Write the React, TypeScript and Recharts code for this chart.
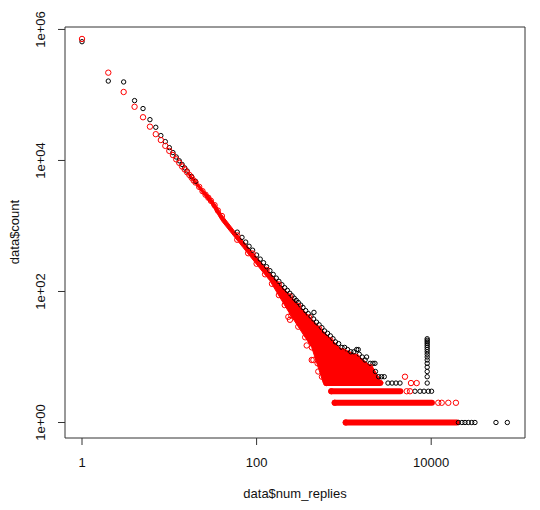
import React from "react";
import {
  ComposedChart,
  XAxis,
  YAxis,
  Scatter,
  Line,
  Area,
  ReferenceArea,
  Label,
} from "recharts";

// ---- axis ticks ----
const xTicks = [1, 100, 10000];
const xTickLabels = ["1", "100", "10000"];
const yTicks = [1, 100, 10000, 1000000];
const yTickLabels = ["1e+00", "1e+02", "1e+04", "1e+06"];
const xDomain = [0.6385, 118750];
const yDomain = [0.58, 1090000];

// ---- black series (first data set) ----
const blackX = [1, 2, 3, 4, 5, 6, 7, 8, 9, 10, 11, 12, 13, 14, 15, 16, 18, 20];
const blackY = [650000, 163000, 158000, 82000, 62000, 42000, 32100, 24000, 19400, 15700, 13200, 11300, 9900, 8700, 7700, 6900, 5700, 4800];
// upper edge of the cloud
const blackEdgeX = [60, 68, 75, 82, 90, 100, 110, 120, 130, 142, 155, 168, 180, 195, 210, 225, 240, 255, 270, 285, 300, 320, 340, 365, 390, 420, 450, 454, 485, 520, 560, 600, 650, 700, 750, 800, 870, 950, 1020, 1100, 1200, 1300, 1400, 1460, 1500, 1620, 1750, 1820, 2000, 2150, 2270, 2300, 2500, 2700, 2900];
const blackEdgeY = [805, 670, 568, 490, 427, 360, 312, 275, 239, 208, 182, 160, 143, 127, 114, 104, 94, 86, 79, 73, 68, 62, 57, 51, 46, 42, 38, 48, 34, 31, 28, 25, 23, 21, 19, 17, 16, 14, 14, 13, 12, 12, 13, 13, 11, 10, 9, 10, 8, 8, 8, 6, 5, 5, 5];
// tails of the low-count rows
const blackTailX = [3200, 3560, 3950, 4390, 6520, 7450, 8270, 9270, 10100, 20500, 22500, 24400, 26600, 29100, 31700, 55200, 74500];
const blackTailY = [4, 4, 4, 4, 3, 3, 3, 3, 3, 1, 1, 1, 1, 1, 1, 1, 1];
// vertical column of points at one num_replies value
const blackColumnX = 9000;
const blackColumnY = [4, 5, 6, 7, 8, 9, 10, 11, 12, 13, 14, 15, 16, 17, 18, 19];

// ---- red series (second data set) ----
const redX = [1, 2, 3, 4, 5, 6, 7, 8, 9, 10, 11, 12, 13, 14, 15, 16, 17, 18, 19, 20, 22, 24, 26, 28, 30, 33, 36, 40];
const redY = [716000, 219000, 111000, 66000, 45700, 32800, 25200, 20500, 16700, 14000, 12100, 10400, 9200, 8100, 7300, 6600, 6000, 5450, 4950, 4600, 3950, 3400, 3000, 2700, 2420, 2080, 1720, 1420];
// dense cloud: lower / upper count envelope per num_replies
const massX = [16, 20, 25, 30, 35, 40, 56, 70, 95, 142, 185, 242, 316, 428, 581, 900, 1400, 2170, 2600, 2830];
const massLo = [6400, 4350, 2950, 2180, 1580, 1180, 676, 468, 282, 146, 81, 45, 26, 14, 4, 4, 4, 4, 4, 4];
const massHi = [6800, 4850, 3450, 2650, 1990, 1480, 832, 589, 363, 194, 128, 87, 58.6, 37.8, 24.8, 13.8, 10.9, 6.8, 4.5, 4];
// rows of count = 1..4
const rowCounts = [1, 2, 3, 4];
const rowStart = [1050, 785, 717, 629];
const rowEnd = [19700, 10200, 4430, 2610];
// individual red points around the cloud edges and row ends
const redEdgeX = [60, 80, 100, 125, 150, 180, 210, 250, 300, 360, 430, 500, 560, 231, 241, 375, 428, 447, 509,
  60, 90, 130, 180, 240, 300, 400, 520, 700, 1000, 1400, 2000,
  1050, 785, 717, 629, 12050, 13200, 15700, 19200, 5240, 5720, 5010, 5870, 6820];
const redEdgeY = [616, 384, 265, 183, 131, 88, 62, 43, 29, 20, 14, 8, 5, 41, 37, 15, 9, 9, 6,
  718, 380, 213, 128, 84, 60, 40, 27, 18, 12, 10, 7,
  1, 2, 3, 4, 2, 2, 2, 2, 3, 3, 5, 4, 4];

const pts = (xs: number[], ys: number[]) => xs.map((x, i) => ({ x, y: ys[i] }));

const blackPts = [
  ...pts(blackX, blackY),
  ...pts(blackEdgeX, blackEdgeY),
  ...pts(blackTailX, blackTailY),
  ...blackColumnY.map((y) => ({ x: blackColumnX, y })),
];
const redPts = [...pts(redX, redY), ...pts(redEdgeX, redEdgeY)];
const massData = massX.map((x, i) => ({ x, r: [massLo[i], massHi[i]] }));
const rowsData = rowCounts.map((c, i) => [
  { x: rowStart[i], y: c },
  { x: rowEnd[i], y: c },
]);

const FONT = "'Liberation Sans', Arial, Helvetica, sans-serif";
const RED = "#ff0000";

const BlackCircle = (p: any) => (
  <circle cx={p.cx} cy={p.cy} r={2.2} fill="none" stroke="#000" strokeWidth={1} />
);
const RedCircle = (p: any) => (
  <circle cx={p.cx} cy={p.cy} r={2.7} fill="none" stroke={RED} strokeWidth={1} />
);

const XTick = (p: any) => {
  const i = xTicks.indexOf(p.payload.value);
  return (
    <text x={p.x} y={466.5} textAnchor="middle" fontFamily={FONT} fontSize={13} fill="#111">
      {xTickLabels[i]}
    </text>
  );
};
const YTick = (p: any) => {
  const i = yTicks.indexOf(p.payload.value);
  return (
    <text
      x={45}
      y={p.y}
      transform={`rotate(-90, 45, ${p.y})`}
      textAnchor="middle"
      fontFamily={FONT}
      fontSize={13}
      fill="#111"
    >
      {yTickLabels[i]}
    </text>
  );
};

export default function App() {
  return (
    <div style={{ position: "absolute", left: 0, top: 0, background: "#fff" }}>
      <ComposedChart width={540} height={510} margin={{ top: 27, right: 15, bottom: 0, left: 0 }}>
        <XAxis
          dataKey="x"
          type="number"
          scale="log"
          domain={xDomain}
          allowDataOverflow
          ticks={xTicks}
          interval={0}
          height={72}
          tickSize={7}
          axisLine={false}
          tickLine={{ stroke: "#333" }}
          tick={<XTick />}
        >
          <Label
            content={() => (
              <text x={295} y={498} textAnchor="middle" fontFamily={FONT} fontSize={13} fill="#111">
                data$num_replies
              </text>
            )}
          />
        </XAxis>
        <YAxis
          type="number"
          scale="log"
          domain={yDomain}
          allowDataOverflow
          ticks={yTicks}
          interval={0}
          width={65}
          tickSize={7}
          axisLine={false}
          tickLine={{ stroke: "#333" }}
          tick={<YTick />}
        >
          <Label
            content={() => (
              <text
                x={19}
                y={232}
                transform="rotate(-90, 19, 232)"
                textAnchor="middle"
                fontFamily={FONT}
                fontSize={13}
                fill="#111"
              >
                data$count
              </text>
            )}
          />
        </YAxis>
        <Scatter data={blackPts} dataKey="y" shape={<BlackCircle />} isAnimationActive={false} />
        <Area
          data={massData}
          dataKey="r"
          type="linear"
          fill={RED}
          fillOpacity={1}
          stroke={RED}
          strokeWidth={1}
          dot={false}
          activeDot={false}
          isAnimationActive={false}
        />
        {rowsData.map((d, i) => (
          <Line
            key={i}
            data={d}
            dataKey="y"
            type="linear"
            stroke={RED}
            strokeWidth={6}
            strokeLinecap="round"
            dot={false}
            activeDot={false}
            isAnimationActive={false}
          />
        ))}
        <Scatter data={redPts} dataKey="y" shape={<RedCircle />} isAnimationActive={false} />
        <ReferenceArea
          x1={xDomain[0]}
          x2={xDomain[1]}
          y1={yDomain[0]}
          y2={yDomain[1]}
          ifOverflow="visible"
          fill="none"
          fillOpacity={0}
          stroke="#333"
          strokeWidth={1}
        />
      </ComposedChart>
    </div>
  );
}
